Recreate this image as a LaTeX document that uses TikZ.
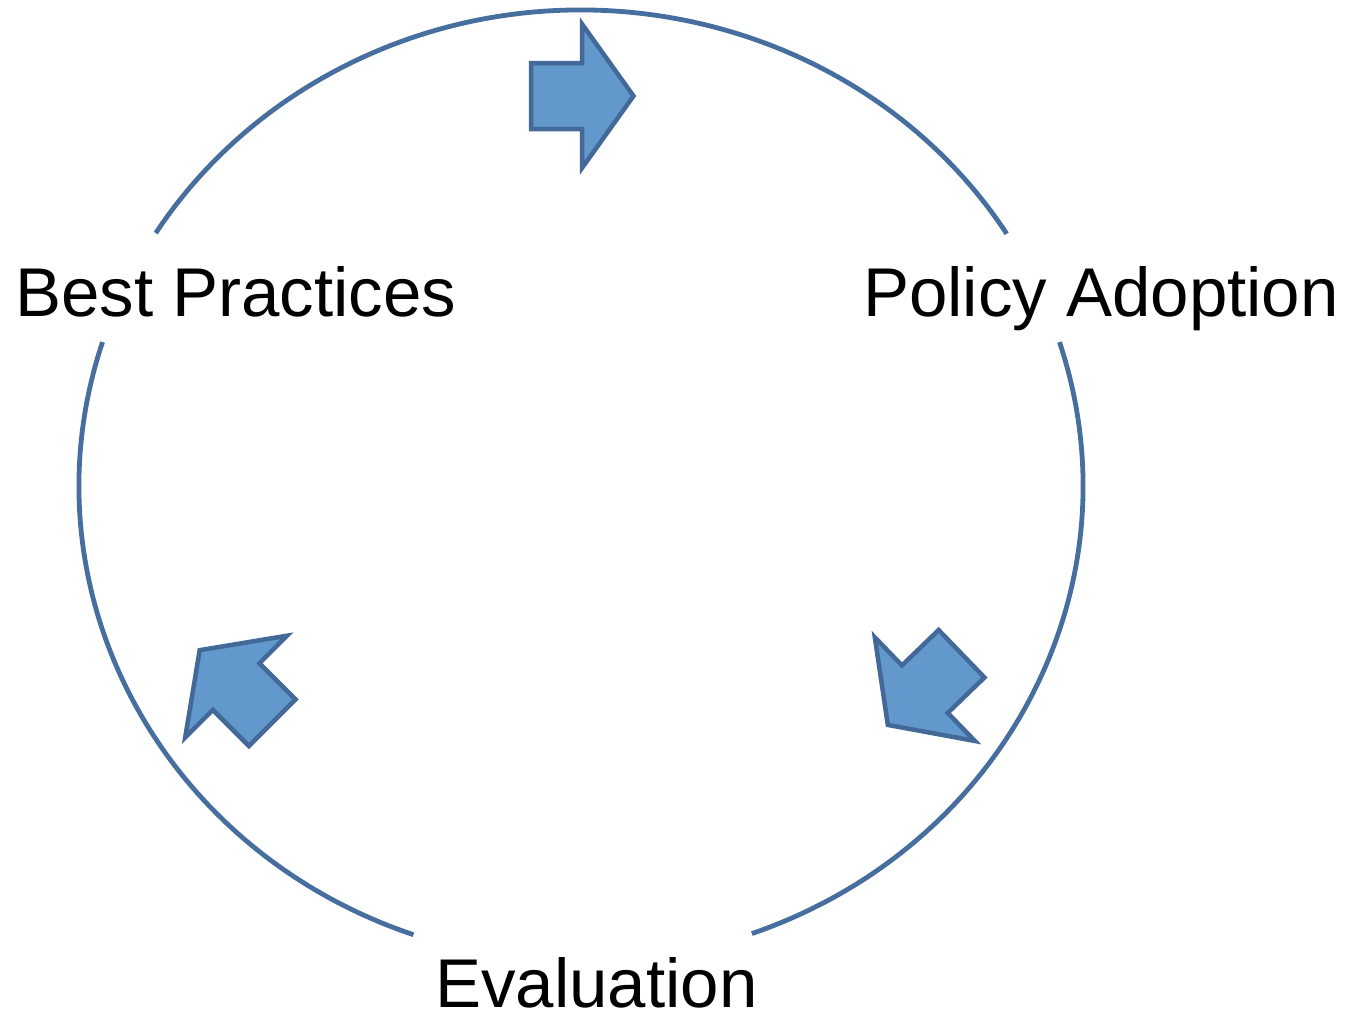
\documentclass[tikz,border=0pt]{standalone}
\usepackage{fontspec}
\setmainfont{Liberation Sans}
\definecolor{ringc}{RGB}{70,110,158}
\definecolor{arrfill}{RGB}{99,152,204}
\definecolor{arrline}{RGB}{66,105,152}
\begin{document}
\begin{tikzpicture}[x=1pt,y=-1pt,
  ring/.style={draw=ringc,line width=4.8pt},
  blockarrow/.style={fill=arrfill,draw=arrline,line width=4.5pt,line join=miter},
  lbl/.style={inner sep=0pt,anchor=base west,font=\fontsize{69}{80}\selectfont}]
\useasboundingbox (0,0) rectangle (1347,1013);
\coordinate (c) at (581,486);
% ring arcs (parametric angles, y flipped => use negative angles)
\draw[ring] (c) ++(-32:502 and 476) arc[start angle=-32,end angle=-147.9,x radius=502,y radius=476];
\draw[ring] (c) ++(-162.4:502 and 476) arc[start angle=-162.4,end angle=-250.5,x radius=502,y radius=476];
\draw[ring] (c) ++(-289.9:502 and 476) arc[start angle=-289.9,end angle=-377.6,x radius=502,y radius=476];
% block arrows
\foreach \cx/\cy/\rot [count=\i] in {582.5/96/0, 924.5/689.5/-136, 235.75/686.25/135}{
  \draw[blockarrow,shift={(\cx,\cy)},rotate=\rot]
    (-51.5,-33) -- (-0.5,-33) -- (-0.5,-72) -- (51,0) -- (-0.5,72) -- (-0.5,33) -- (-51.5,33) -- cycle;
}
% labels
\node[lbl] (best) at (15,316) {Best Practices};
\node[lbl] (policy) at (863,316) {Policy Adoption};
\node[lbl] (eval) at (435,1007) {Evaluation};
\end{tikzpicture}
\end{document}
